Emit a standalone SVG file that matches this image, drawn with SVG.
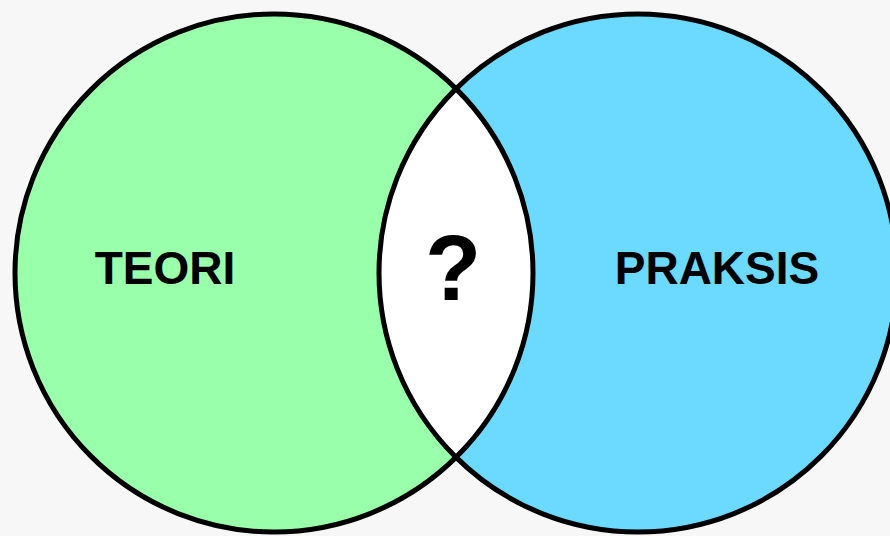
<svg xmlns="http://www.w3.org/2000/svg" width="890" height="536" viewBox="0 0 890 536">
<style>
.ring{fill:none;stroke:#000;stroke-width:5}
.lbl{font-family:"Liberation Sans",Arial,sans-serif;font-weight:bold;fill:#000;text-anchor:middle}
</style>
<defs>
<clipPath id="clipL"><circle cx="274" cy="273" r="259"/></clipPath>
</defs>
<rect width="890" height="536" fill="#f7f7f7"/>
<g id="teori">
<circle cx="274" cy="273" r="259" fill="#99ffaa"/>
</g>
<g id="praksis">
<circle cx="638" cy="273" r="259" fill="#6cd9ff"/>
</g>
<g id="overlap">
<circle cx="638" cy="273" r="259" fill="#ffffff" clip-path="url(#clipL)"/>
</g>
<g id="outlines">
<circle class="ring" cx="274" cy="273" r="259"/>
<circle class="ring" cx="638" cy="273" r="259"/>
</g>
<g id="labels">
<text class="lbl" x="165" y="284" font-size="46">TEORI</text>
<text class="lbl" x="717" y="284" font-size="46">PRAKSIS</text>
<text class="lbl" x="453" y="300" font-size="92">?</text>
</g>
</svg>
